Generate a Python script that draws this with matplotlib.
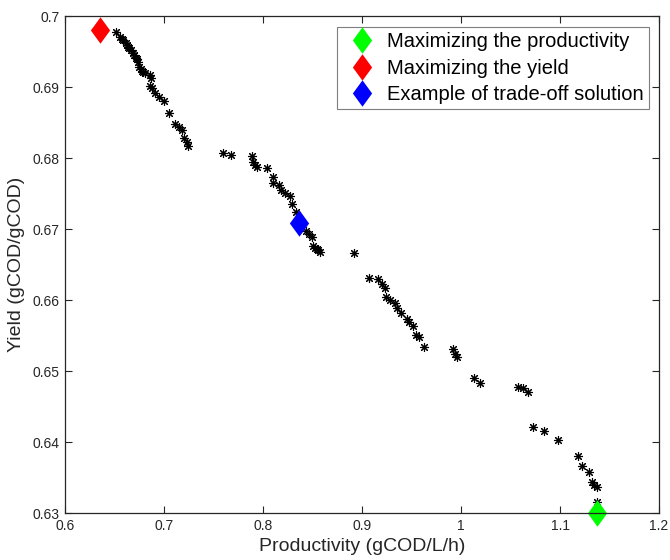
import matplotlib
matplotlib.use("Agg")
import matplotlib.pyplot as plt
from matplotlib.path import Path

plt.rcParams['font.family'] = ['Liberation Sans', 'DejaVu Sans']

# Pareto front points
productivity = [0.6515, 0.6556, 0.6575, 0.6589, 0.6613, 0.6625, 0.6639, 0.6650, 0.6667,
                0.6690, 0.6700, 0.6714, 0.6725, 0.6734, 0.6751, 0.6770, 0.6781, 0.6790,
                0.6808, 0.6859, 0.6866, 0.6859, 0.6876, 0.6909, 0.6949, 0.7003, 0.7054,
                0.7111, 0.7152, 0.7179, 0.7205, 0.7229, 0.7245, 0.7599, 0.7674, 0.7886,
                0.7896, 0.7919, 0.7936, 0.8037, 0.8104, 0.8098, 0.8165, 0.8182, 0.8222,
                0.8273, 0.8293, 0.8333, 0.8434, 0.8465, 0.8492, 0.8508, 0.8525, 0.8542,
                0.8555, 0.8576, 0.8922, 0.9074, 0.9159, 0.9205, 0.9232, 0.9239, 0.9283,
                0.9333, 0.9357, 0.9394, 0.9452, 0.9478, 0.9518, 0.9545, 0.9579, 0.9629,
                0.9922, 0.9939, 0.9963, 1.0131, 1.0192, 1.0579, 1.0623, 1.0680, 1.0730,
                1.0838, 1.0983, 1.1179, 1.1219, 1.1296, 1.1320, 1.1347, 1.1371, 1.1371]
yield_ = [0.69779, 0.69708, 0.69680, 0.69662, 0.69615, 0.69595, 0.69568, 0.69550, 0.69521,
          0.69475, 0.69455, 0.69413, 0.69390, 0.69356, 0.69286, 0.69250, 0.69225, 0.69205,
          0.69193, 0.69169, 0.69123, 0.69014, 0.68989, 0.68911, 0.68863, 0.68803, 0.68630,
          0.68479, 0.68441, 0.68394, 0.68286, 0.68230, 0.68173, 0.68075, 0.68042, 0.68032,
          0.67948, 0.67901, 0.67869, 0.67863, 0.67737, 0.67644, 0.67620, 0.67549, 0.67503,
          0.67469, 0.67348, 0.67244, 0.66976, 0.66930, 0.66892, 0.66761, 0.66730, 0.66714,
          0.66700, 0.66680, 0.66666, 0.66314, 0.66300, 0.66225, 0.66165, 0.66046, 0.66000,
          0.65954, 0.65883, 0.65813, 0.65728, 0.65694, 0.65634, 0.65507, 0.65475, 0.65334,
          0.65310, 0.65239, 0.65201, 0.64897, 0.64827, 0.64779, 0.64756, 0.64709, 0.64215,
          0.64155, 0.64028, 0.63803, 0.63662, 0.63573, 0.63441, 0.63394, 0.63370, 0.63159]

# highlighted solutions
max_prod = (1.1377, 0.6300)
max_yield = (0.6350, 0.6981)
trade_off = (0.8367, 0.6709)

legend_labels = ['Maximizing the productivity', 'Maximizing the yield',
                 'Example of trade-off solution']

# MATLAB style diamond (slightly taller than wide)
diamond = Path([(0, 1), (0.73, 0), (0, -1), (-0.73, 0), (0, 1)],
               [Path.MOVETO, Path.LINETO, Path.LINETO, Path.LINETO, Path.CLOSEPOLY])

fig = plt.figure(figsize=(6.7, 5.6), dpi=100)
ax = fig.add_axes([0.097, 0.0839, 0.8866, 0.8875])

ax.plot(productivity, yield_, linestyle='none', marker=(8, 2, 0), markersize=6.5,
        markeredgewidth=0.8, color='black')

h1, = ax.plot(*max_prod, linestyle='none', marker=diamond, markersize=19,
              color='#00ff00', markeredgewidth=0, clip_on=False)
h2, = ax.plot(*max_yield, linestyle='none', marker=diamond, markersize=19,
              color='#ff0000', markeredgewidth=0, clip_on=False)
h3, = ax.plot(*trade_off, linestyle='none', marker=diamond, markersize=19,
              color='#0000ff', markeredgewidth=0, clip_on=False)

ax.set_xlim(0.6, 1.2)
ax.set_ylim(0.63, 0.7)
ax.set_xticks([0.6, 0.7, 0.8, 0.9, 1.0, 1.1, 1.2])
ax.set_xticklabels(['0.6', '0.7', '0.8', '0.9', '1', '1.1', '1.2'])
ax.set_yticks([0.63, 0.64, 0.65, 0.66, 0.67, 0.68, 0.69, 0.7])
ax.set_yticklabels(['0.63', '0.64', '0.65', '0.66', '0.67', '0.68', '0.69', '0.7'])

ax.tick_params(direction='in', top=True, right=True, length=5, width=0.8,
               labelsize=10, colors='#262626', pad=4)
for s in ax.spines.values():
    s.set_color('#262626')
    s.set_linewidth(0.9)

ax.set_xlabel('Productivity (gCOD/L/h)', fontsize=14, color='#262626', labelpad=4)
ax.set_ylabel('Yield (gCOD/gCOD)', fontsize=14, color='#262626', labelpad=5)

leg = ax.legend([h1, h2, h3], legend_labels, loc='upper right', fontsize=14.5,
                fancybox=False, framealpha=1, edgecolor='#7f7f7f',
                borderpad=0.25, labelspacing=0.38, handletextpad=0.3,
                handlelength=1.95, borderaxespad=0,
                bbox_to_anchor=(0.983, 0.978))
leg.get_frame().set_linewidth(0.8)

fig.savefig('out.png', dpi=100)
